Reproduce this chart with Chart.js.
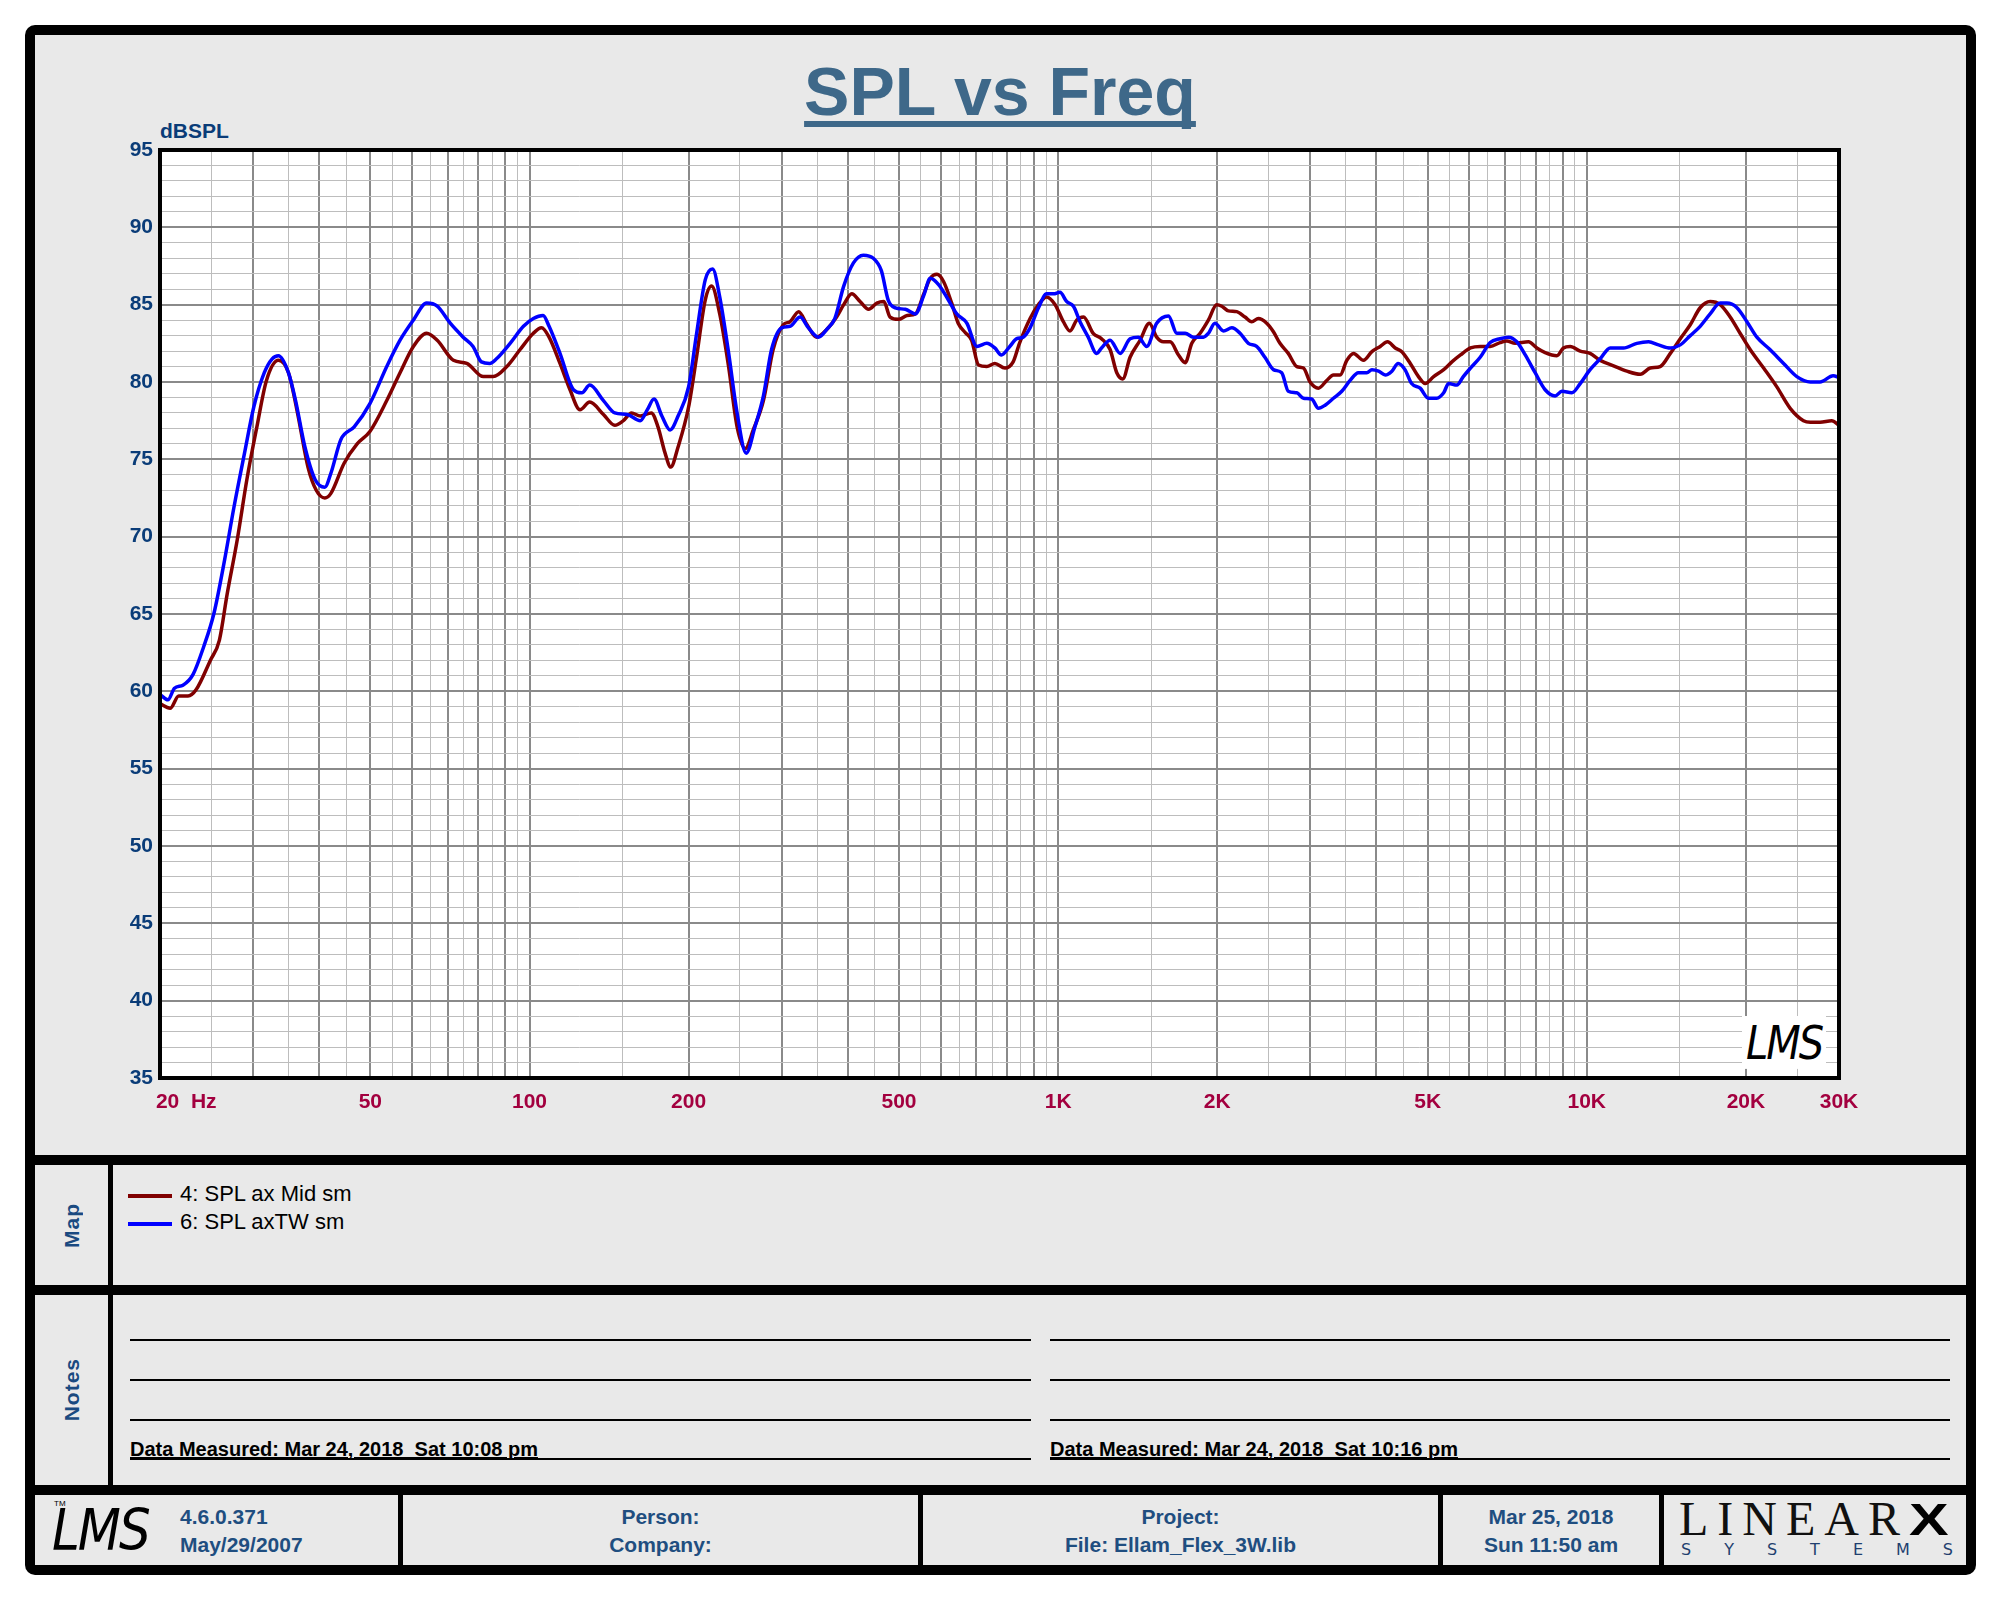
<!DOCTYPE html>
<html>
<head>
<meta charset="utf-8">
<title>SPL vs Freq</title>
<script src="https://cdn.jsdelivr.net/npm/chart.js@4.4.0/dist/chart.umd.min.js"></script>
<style>
body{margin:0;width:2000px;height:1600px;position:relative;background:#fff;font-family:Arial,"Liberation Sans",sans-serif;}
.abs{position:absolute;}
.panel{position:absolute;background:#e9e9e9;}
.side{display:flex;align-items:center;justify-content:center;}
.side span{writing-mode:vertical-rl;transform:rotate(180deg);font:bold 21px Arial,"Liberation Sans",sans-serif;color:#1a4a80;letter-spacing:1px;}
.rule{position:absolute;height:2px;background:#000;}
.measured{position:absolute;font:bold 20px/20px Arial,"Liberation Sans",sans-serif;color:#000;white-space:pre;text-decoration:underline;}
.cell{position:absolute;top:1495px;height:70px;background:#e9e9e9;font:bold 21px/28px Arial,"Liberation Sans",sans-serif;color:#1f4e80;text-align:center;box-sizing:border-box;padding-top:8px;}
.lms{position:absolute;font-family:"DejaVu Sans",sans-serif;font-weight:200;font-style:oblique;color:#000;transform:scaleY(1.15);transform-origin:left top;letter-spacing:-2px;}
</style>
</head>
<body>
<div class="abs" style="left:25px;top:25px;width:1951px;height:1550px;background:#000;border-radius:10px;"></div>

<!-- chart panel -->
<div class="panel" style="left:35px;top:35px;width:1931px;height:1120px;"></div>
<div class="abs" style="left:0;top:57px;width:2000px;text-align:center;font:bold 68px/68px Arial,'Liberation Sans',sans-serif;color:#3e6889;">
  <span style="text-decoration:underline;text-decoration-thickness:6px;text-underline-offset:6px;text-decoration-skip-ink:none;">SPL vs Freq</span>
</div>
<div class="abs" style="left:160px;top:120px;font:bold 21px/21px Arial,'Liberation Sans',sans-serif;color:#0a3c78;">dBSPL</div>
<canvas id="myChart" width="1931" height="1120" style="position:absolute;left:35px;top:35px;"></canvas>
<div class="lms" style="left:1742px;top:1016px;font-size:40px;background:#fff;padding:0 4px;">LMS</div>

<!-- map -->
<div class="panel side" style="left:35px;top:1165px;width:73px;height:120px;"><span>Map</span></div>
<div class="panel" style="left:113px;top:1165px;width:1853px;height:120px;"></div>
<div class="abs" style="left:128px;top:1194px;width:44px;height:4px;background:#800000;"></div>
<div class="abs" style="left:180px;top:1183px;font:22px/22px Arial,'Liberation Sans',sans-serif;">4: SPL ax Mid sm</div>
<div class="abs" style="left:128px;top:1222px;width:44px;height:4px;background:#0000ff;"></div>
<div class="abs" style="left:180px;top:1211px;font:22px/22px Arial,'Liberation Sans',sans-serif;">6: SPL axTW sm</div>

<!-- notes -->
<div class="panel side" style="left:35px;top:1295px;width:73px;height:190px;"><span>Notes</span></div>
<div class="panel" style="left:113px;top:1295px;width:1853px;height:190px;"></div>
<div class="rule" style="left:130px;top:1339px;width:901px;"></div>
<div class="rule" style="left:130px;top:1379px;width:901px;"></div>
<div class="rule" style="left:130px;top:1419px;width:901px;"></div>
<div class="rule" style="left:130px;top:1458px;width:901px;"></div>
<div class="rule" style="left:1050px;top:1339px;width:900px;"></div>
<div class="rule" style="left:1050px;top:1379px;width:900px;"></div>
<div class="rule" style="left:1050px;top:1419px;width:900px;"></div>
<div class="rule" style="left:1050px;top:1458px;width:900px;"></div>
<div class="measured" style="left:130px;top:1439px;">Data Measured: Mar 24, 2018  Sat 10:08 pm</div>
<div class="measured" style="left:1050px;top:1439px;">Data Measured: Mar 24, 2018  Sat 10:16 pm</div>

<!-- footer -->
<div class="cell" style="left:35px;width:363px;text-align:left;padding-left:145px;">4.6.0.371<br>May/29/2007</div>
<div class="lms" style="left:52px;top:1497px;font-size:50px;">LMS</div>
<div class="abs" style="left:54px;top:1499px;font-size:8px;">TM</div>
<div class="cell" style="left:403px;width:515px;">Person:<br>Company:</div>
<div class="cell" style="left:923px;width:515px;">Project:<br>File: Ellam_Flex_3W.lib</div>
<div class="cell" style="left:1443px;width:216px;">Mar 25, 2018<br>Sun 11:50 am</div>
<div class="cell" style="left:1664px;width:302px;"></div>
<div class="abs" style="left:1679px;top:1495px;font:48px/48px 'Liberation Serif',serif;letter-spacing:9px;color:#111;">LINEAR</div>
<div class="abs" style="left:1909px;top:1498px;font:bold 44px/44px Arial,'Liberation Sans',sans-serif;color:#000;transform:scaleX(1.35);transform-origin:left top;">X</div>
<div class="abs" style="left:1681px;top:1541px;width:272px;display:flex;justify-content:space-between;font:16px/17px 'DejaVu Sans',sans-serif;color:#1f3f6f;">
  <span>S</span><span>Y</span><span>S</span><span>T</span><span>E</span><span>M</span><span>S</span>
</div>

<script>
// curve 4: SPL ax Mid sm
var midFreq = [20,20.9,21.7,22.6,23.4,24.9,25.9,26.8,28,29.2,30.5,31.8,33.5,35,36.5,38.1,39.5,41,42.1,44.6,47.2,49.9,53.7,56.9,60.3,63.9,66.9,71.8,76.1,81.8,85.4,90.6,96,101.7,105.4,108.9,114.2,119.3,124.6,
  130,138,145,150.5,156,162,170,175,180.5,185,191,200,207,215,221,229,238,247,256,265,277,289,302,311,323,335,349,365,381,393,407,422,438,454,468,481,499,518,537,557,573,590,607,629,647,667,686,707,733,759,793,822,845,
  885,918,951,987,1023,1053,1084,1117,1165,1208,1254,1291,1325,1368,1429,1488,1536,1582,1629,1689,1739,1790,1856,1924,1995,2040,2099,2177,2257,2324,2392,2480,2554,2628,2725,2828,2911,2996,3107,3222,3317,3415,3516,3620,3782,3922,4067,4199,4341,4468,4636,4804,4946,5132,5362,5557,5769,
  6026,6286,6566,6856,7058,7318,7757,8045,8341,8780,9033,9304,9719,10146,10604,11236,11910,12626,13185,13769,14389,15027,15695,16387,17115,17879,18674,19498,20371,21604,22868,24253,25697,26479,27622,29067,30000];
var midSpl = [59.2,58.9,59.7,59.7,60.1,62,63.3,66.3,69.8,73.7,77.1,80.1,81.4,80.6,77.8,74.5,73,72.5,72.8,74.75,76,76.8,78.8,80.6,82.3,83.15,82.7,81.4,81.2,80.35,80.35,81,82.1,83.15,83.5,82.9,81.2,79.5,78.2,
  78.7,77.9,77.2,77.5,78,77.8,78,77.1,75.4,74.5,75.8,78.4,81.6,85.3,86.2,84.4,81,77.1,75.7,76.9,78.8,82.1,83.7,83.9,84.55,83.7,82.9,83.4,84.2,85,85.7,85.2,84.7,85.1,85.2,84.2,84.05,84.3,84.4,85.7,86.7,86.96,86.5,85.1,83.8,83.2,82.7,81.1,81,81.2,80.9,81.3,82.5,
  84.1,85,85.5,85,83.9,83.3,84,84.2,83.15,82.8,82.1,80.6,80.2,81.6,82.7,83.8,82.9,82.6,82.6,81.75,81.25,82.5,83.15,84,85,84.9,84.6,84.55,84.2,83.9,84.1,83.8,83.25,82.5,81.85,81,80.9,80,79.6,80.1,80.45,80.45,81.4,81.85,81.4,81.96,82.3,82.6,82.2,81.96,81.2,80.35,79.9,80.35,80.8,81.3,81.75,
  82.2,82.3,82.3,82.55,82.65,82.5,82.6,82.2,81.9,81.7,82.2,82.3,82,81.85,81.4,81.05,80.7,80.5,80.9,81,81.85,82.8,83.7,84.8,85.2,85,84.2,83.15,82.1,80.9,79.7,78.3,77.5,77.4,77.4,77.5,77.2];

// curve 6: SPL axTW sm
var twFreq = [20,20.7,21.3,22.1,23.1,24.2,25.3,26.5,27.6,28.9,30.1,31.5,32.6,33.5,35,36.1,37.6,39.3,41,42.1,44,46.6,49.9,53.7,56.9,60.3,63.9,66.9,70.8,74.9,78.2,81.1,84.1,86.6,91.9,97.4,101.7,106.1,108.9,114.2,121.1,125.6,
  130,138,145,153,162,167,172,178,184.5,191,200,207,215,222,229,238,247,257,267,277,287,300,311,325,337,352,365,378,393,410,428,447,463,477,492,514,537,557,573,594,620,643,672,702,733,759,781,810,835,859,
  885,918,951,980,1008,1038,1069,1100,1140,1183,1208,1254,1310,1368,1418,1471,1536,1617,1677,1739,1803,1883,1924,1980,2054,2131,2209,2290,2374,2461,2554,2648,2725,2828,2911,3016,3107,3199,3317,3440,3567,3698,3836,3922,4038,4158,4279,4397,4530,4663,4840,5017,5203,5362,5477,5680,5840,
  6026,6286,6566,6856,7113,7372,7649,7986,8341,8714,8973,9370,9719,10146,10604,11073,11735,12439,13089,13667,14389,15027,15695,16387,17115,17879,18403,19233,20088,20979,22206,23566,24968,26479,27622,29247,30000];
var twSpl = [59.8,59.45,60.2,60.4,61.1,62.9,65.05,68.5,71.9,75.4,78.4,80.6,81.5,81.7,80.6,78.8,75.8,73.7,73.2,74.1,76.3,77.1,78.6,81,82.7,84,85.1,84.9,83.8,82.9,82.3,81.3,81.2,81.5,82.5,83.6,84.1,84.3,83.6,81.85,79.5,79.3,
  79.8,78.8,78,77.9,77.5,78.2,78.9,77.8,76.9,77.8,79.7,83.1,86.6,87.3,85.5,81.9,78,75.4,77.1,79.1,82.1,83.5,83.6,84.2,83.5,82.9,83.4,84.1,86.2,87.7,88.2,88,87.2,85.3,84.8,84.7,84.4,85.6,86.7,86.3,85.3,84.4,83.8,82.3,82.5,82.2,81.75,82.3,82.8,82.9,
  83.5,84.8,85.7,85.7,85.8,85.2,84.9,83.9,82.9,81.85,82.2,82.7,81.85,82.8,82.9,82.3,83.8,84.27,83.15,83.15,82.9,82.9,83.15,83.8,83.3,83.5,83.15,82.5,82.3,81.6,80.8,80.6,79.4,79.3,78.95,78.9,78.3,78.5,78.95,79.4,80.1,80.6,80.6,80.8,80.7,80.45,80.7,81.2,80.8,79.9,79.6,78.95,78.95,79.3,79.9,79.8,80.35,
  80.9,81.6,82.55,82.8,82.9,82.6,81.75,80.6,79.5,79.1,79.4,79.3,79.9,80.8,81.5,82.2,82.2,82.5,82.6,82.4,82.2,82.4,83,83.6,84.4,85.1,85.1,84.8,83.9,82.9,82.1,81.2,80.35,80,80,80.4,80.3];

// axis labels
var xLabelVals = [20,50,100,200,500,1000,2000,5000,10000,20000,30000];
var xLabelText = ['         20  Hz','50','100','200','500','1K','2K','5K','10K','20K','30K'];
var yMin = 35, yMax = 95;

var darkGrid = '#8a8a8a', lightGrid = '#bdbdbd';
var fontFam = 'Arial, "Liberation Sans", sans-serif';

// grid lines every half step of each decade
var xGrid = [];
[10,100,1000,10000].forEach(function(d){
  for (var m = 1.5; m <= 10; m += 0.5) {
    var v = Math.round(m*d);
    if (v >= 20 && v <= 30000 && xGrid.indexOf(v) < 0) xGrid.push(v);
  }
});
var yGrid = [];
for (var v = yMin; v <= yMax; v++) yGrid.push(v);

function isMajorX(v){
  var p = Math.pow(10, Math.floor(Math.log10(v) + 1e-9));
  return Math.abs(v/p - Math.round(v/p)) < 1e-6;
}

function pts(f, s){ return f.map(function(x,i){ return {x:x, y:s[i]}; }); }

var plotFrame = {
  id:'plotFrame',
  beforeDraw:function(c){
    var a = c.chartArea, g = c.ctx;
    g.save(); g.fillStyle = '#fff';
    g.fillRect(a.left, a.top, a.right-a.left, a.bottom-a.top);
    g.restore();
  },
  afterDraw:function(c){
    var a = c.chartArea, g = c.ctx;
    g.save(); g.strokeStyle = '#000'; g.lineWidth = 4;
    g.strokeRect(a.left, a.top, a.right-a.left, a.bottom-a.top);
    g.restore();
  }
};

var myChart = document.getElementById("myChart").getContext("2d");

var splChart = new Chart(myChart,{
  type:'line',
  data:{
    datasets:[{
      label:'4: SPL ax Mid sm',
      data:pts(midFreq, midSpl),
      borderColor:'#800000',
      borderWidth:3.5,
      pointRadius:0,
      cubicInterpolationMode:'monotone',
      order:2
    },{
      label:'6: SPL axTW sm',
      data:pts(twFreq, twSpl),
      borderColor:'#0000ff',
      borderWidth:3.5,
      pointRadius:0,
      cubicInterpolationMode:'monotone',
      order:1
    }]
  },
  options:{
    responsive:false,
    animation:false,
    devicePixelRatio:1,
    layout:{ padding:{left:65, right:127, top:115, bottom:27} },
    plugins:{ legend:{display:false}, tooltip:{enabled:false} },
    scales:{
      x:{
        type:'logarithmic', min:20, max:30000,
        afterBuildTicks:function(s){ s.ticks = xGrid.map(function(v){ return {value:v}; }); },
        afterFit:function(s){ s.height = 50; },
        border:{display:false},
        grid:{
          drawTicks:false,
          color:function(ctx){ return ctx.tick && !isMajorX(ctx.tick.value) ? lightGrid : darkGrid; },
          lineWidth:function(ctx){ return ctx.tick && !isMajorX(ctx.tick.value) ? 1 : 2; }
        },
        ticks:{
          autoSkip:false, maxRotation:0, minRotation:0, padding:12,
          color:'#a3003f',
          font:{family:fontFam, size:21, weight:'bold'},
          callback:function(v){ var i = xLabelVals.indexOf(v); return i < 0 ? '' : xLabelText[i]; }
        }
      },
      y:{
        type:'linear', min:yMin, max:yMax,
        afterBuildTicks:function(s){ s.ticks = yGrid.map(function(v){ return {value:v}; }); },
        afterFit:function(s){ s.width = 60; },
        border:{display:false},
        grid:{
          drawTicks:false,
          color:function(ctx){ return ctx.tick && ctx.tick.value % 5 !== 0 ? lightGrid : darkGrid; },
          lineWidth:function(ctx){ return ctx.tick && ctx.tick.value % 5 !== 0 ? 1 : 2; }
        },
        ticks:{
          autoSkip:false, padding:7,
          color:'#0a3c78',
          font:{family:fontFam, size:21, weight:'bold'},
          callback:function(v){ return v % 5 === 0 ? String(v) : ''; }
        }
      }
    }
  },
  plugins:[plotFrame]
});
</script>
</body>
</html>
